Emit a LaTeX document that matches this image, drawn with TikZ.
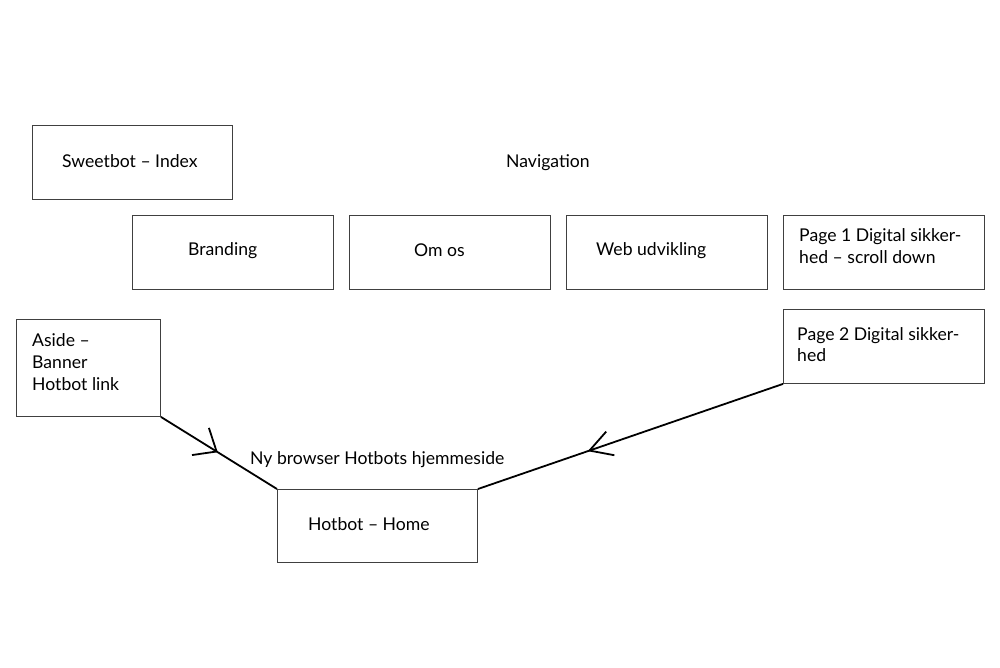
\documentclass[tikz,border=0pt]{standalone}
\usepackage{fontspec}
\setmainfont{Lato}
\usetikzlibrary{arrows.meta,decorations.markings}
\begin{document}
\begin{tikzpicture}[x=1pt,y=-1pt,
  box/.style={draw=black!75,line width=0.9pt,rectangle,inner sep=0pt,anchor=north west},
  txt/.style={anchor=base west,inner sep=0pt,font=\fontsize{17.6}{22}\selectfont,align=left},
  link/.style={line width=1.8pt,black},
  barb/.style 2 args={postaction={decorate},decoration={markings,mark=at position #1 with {\arrow{#2}}}}
]
\useasboundingbox (0,0) rectangle (1000,667);
\node[box,minimum width=200pt,minimum height=74pt] (sweet) at (32,125) {};
\node[box,minimum width=201pt,minimum height=74pt] (brand) at (132,215) {};
\node[box,minimum width=201pt,minimum height=74pt] (omos) at (349,215) {};
\node[box,minimum width=201pt,minimum height=74pt] (web) at (566,215) {};
\node[box,minimum width=201pt,minimum height=74pt] (page1) at (783,215) {};
\node[box,minimum width=144pt,minimum height=97pt] (aside) at (16,319) {};
\node[box,minimum width=201pt,minimum height=74pt] (page2) at (783,309) {};
\node[box,minimum width=200pt,minimum height=73pt] (home) at (277,489) {};

\node[txt] (tsweet) at (62,167) {Sweetbot – Index};
\node[txt] (tnav) at (506,167) {Navigation};
\node[txt] (tbrand) at (188,255) {Branding};
\node[txt] (tomos) at (414,256) {Om os};
\node[txt] (tweb) at (596,255) {Web udvikling};
\node[txt] (tpage1) at (799,263) {Page 1 Digital sikker-\\hed – scroll down};
\node[txt] (taside) at (32,390) {Aside –\\Banner\\Hotbot link};
\node[txt,font=\fontsize{17.6}{20.5}\selectfont] (tpage2) at (797,361) {Page 2 Digital sikker-\\hed};
\node[txt] (tny) at (250,464) {Ny browser Hotbots hjemmeside};
\node[txt] (thome) at (308,530) {Hotbot – Home};

\draw[link,barb={0.49}{Straight Barb[length=19pt,width=32pt,line width=1.8pt]}] (aside.south east) -- (home.north west);
\draw[link,barb={0.64}{Straight Barb[length=22pt,width=25pt,line width=1.8pt]}] (page2.south west) -- (home.north east);
\end{tikzpicture}
\end{document}
